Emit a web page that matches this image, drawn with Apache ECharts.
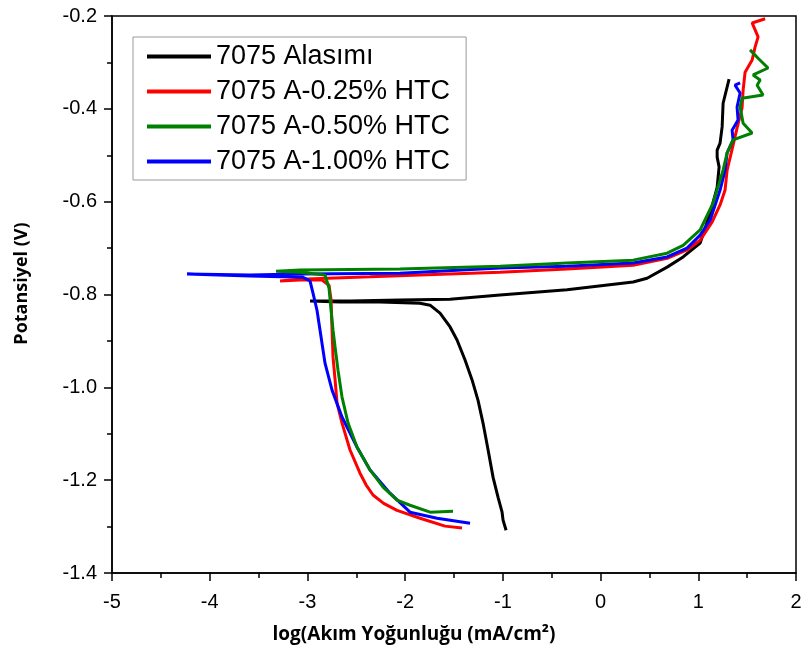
<!DOCTYPE html>
<html>
<head>
<meta charset="utf-8">
<script src="https://cdn.jsdelivr.net/npm/echarts@6/dist/echarts.min.js"></script>
<style>
  html, body { margin: 0; padding: 0; background: #fff; }
  #chart { width: 805px; height: 657px; }
</style>
</head>
<body>
<div id="chart"></div>
<script>
// eğri verileri: x = log(i), y = potansiyel (V)
var names = ["7075 Alasımı", "7075 A-0.25% HTC", "7075 A-0.50% HTC", "7075 A-1.00% HTC"];
var colors = ["#000000", "#ff0000", "#008000", "#0000ff"];

var alloyX = [-0.967, -0.998, -1.008, -1.049, -1.100, -1.151, -1.203, -1.254, -1.315, -1.387, -1.469, -1.540, -1.643, -1.745, -1.848,
  -2.257, -2.666, -2.973, -2.564, -2.052, -1.541, -1.029, -0.343, 0.333, 0.476, 0.681, 0.845, 1.019, 1.121, 1.193, 1.213,
  1.193, 1.193, 1.223, 1.244, 1.254, 1.315];
var alloyY = [-1.308, -1.286, -1.269, -1.237, -1.194, -1.135, -1.077, -1.028, -0.984, -0.941, -0.898, -0.870, -0.840, -0.823, -0.819,
  -0.816, -0.816, -0.814, -0.814, -0.812, -0.810, -0.801, -0.790, -0.773, -0.765, -0.741, -0.719, -0.689, -0.625, -0.569, -0.525,
  -0.504, -0.489, -0.474, -0.439, -0.388, -0.336];

var htc025X = [-1.418, -1.592, -1.847, -2.083, -2.220, -2.329, -2.400, -2.462, -2.564, -2.646, -2.697, -2.717, -2.738, -2.748, -2.758, -2.779, -2.851,
  -3.076, -3.280, -3.076, -2.359, -1.848, -1.029, -0.343, 0.333, 0.681, 0.885, 1.019, 1.141, 1.223, 1.274, 1.295, 1.356,
  1.397, 1.448, 1.459, 1.479, 1.551, 1.581, 1.612, 1.551, 1.684];
var htc025Y = [-1.303, -1.299, -1.282, -1.265, -1.250, -1.232, -1.210, -1.185, -1.135, -1.077, -1.034, -0.984, -0.935, -0.877, -0.812, -0.780, -0.769,
  -0.769, -0.771, -0.767, -0.762, -0.758, -0.752, -0.745, -0.737, -0.722, -0.704, -0.683, -0.644, -0.607, -0.575, -0.532, -0.478,
  -0.441, -0.398, -0.359, -0.321, -0.295, -0.267, -0.245, -0.215, -0.206];

var htc050X = [-1.510, -1.745, -1.950, -2.083, -2.226, -2.359, -2.492, -2.584, -2.646, -2.687, -2.717, -2.738, -2.758, -2.779, -2.820,
  -3.076, -3.321, -3.076, -2.052, -1.029, -0.343, 0.333, 0.681, 0.845, 1.019, 1.151, 1.254, 1.295, 1.356, 1.551, 1.459,
  1.428, 1.448, 1.663, 1.602, 1.633, 1.561, 1.714, 1.612, 1.530];
var htc050Y = [-1.267, -1.269, -1.254, -1.243, -1.215, -1.178, -1.129, -1.077, -1.021, -0.963, -0.913, -0.877, -0.834, -0.786, -0.758,
  -0.752, -0.750, -0.747, -0.745, -0.739, -0.732, -0.726, -0.711, -0.694, -0.661, -0.603, -0.532, -0.495, -0.467, -0.452, -0.431,
  -0.396, -0.377, -0.370, -0.349, -0.338, -0.327, -0.312, -0.291, -0.273];

var htc100X = [-1.336, -1.674, -1.950, -2.155, -2.359, -2.492, -2.646, -2.748, -2.820, -2.871, -2.902, -2.943, -2.973, -3.045, -3.588,
  -4.232, -3.588, -3.076, -2.052, -1.029, -0.343, 0.333, 0.681, 0.885, 1.019, 1.121, 1.223, 1.274, 1.295, 1.356, 1.346,
  1.407, 1.397, 1.428, 1.376, 1.428];
var htc100Y = [-1.293, -1.282, -1.269, -1.228, -1.178, -1.129, -1.064, -1.006, -0.948, -0.877, -0.834, -0.797, -0.771, -0.763, -0.760,
  -0.756, -0.758, -0.756, -0.754, -0.743, -0.739, -0.732, -0.719, -0.700, -0.672, -0.640, -0.575, -0.532, -0.495, -0.467, -0.446,
  -0.424, -0.396, -0.366, -0.349, -0.344];

var xTicks = [-5, -4, -3, -2, -1, 0, 1, 2];
var yTicks = [-1.4, -1.2, -1.0, -0.8, -0.6, -0.4, -0.2];

function zip(xs, ys) {
  return xs.map(function (x, i) { return [x, ys[i]]; });
}

var seriesData = [zip(alloyX, alloyY), zip(htc025X, htc025Y), zip(htc050X, htc050Y), zip(htc100X, htc100Y)];
// çizim sırası: siyah, kırmızı, mavi, yeşil (yeşil en üstte)
var drawOrder = [0, 1, 3, 2];

var chart = echarts.init(document.getElementById("chart"), null, { renderer: "canvas" });

var axisFont = "'Liberation Sans', Arial, sans-serif";
var nameFont = "'Open Sans', 'Noto Sans', sans-serif";

chart.setOption({
  animation: false,
  backgroundColor: "#ffffff",
  grid: {
    left: 112,
    right: 9,
    top: 16,
    bottom: 84,
    show: true,
    borderColor: "#000",
    borderWidth: 1.5
  },
  legend: {
    orient: "vertical",
    left: 133,
    top: 37,
    data: names,
    icon: "rect",
    itemWidth: 64,
    itemHeight: 4,
    itemGap: 8,
    padding: [6, 16, 5, 14],
    borderColor: "#999",
    borderWidth: 1,
    textStyle: { fontFamily: axisFont, fontSize: 27, lineHeight: 26, color: "#000" }
  },
  xAxis: {
    type: "value",
    min: xTicks[0],
    max: xTicks[xTicks.length - 1],
    interval: 1,
    name: "log(Akım Yoğunluğu (mA/cm²)",
    nameLocation: "middle",
    nameGap: 52,
    nameTextStyle: { fontFamily: nameFont, fontWeight: "bold", fontSize: 19, color: "#000", padding: [0, 80, 0, 0] },
    axisLine: { onZero: false, lineStyle: { color: "#000", width: 1.5 } },
    axisTick: { inside: false, length: 8, lineStyle: { color: "#000", width: 1.5 } },
    minorTick: { show: true, splitNumber: 2, length: 5, lineStyle: { color: "#000", width: 1.5 } },
    axisLabel: { margin: 19, fontFamily: axisFont, fontSize: 20, color: "#000" },
    splitLine: { show: false }
  },
  yAxis: {
    type: "value",
    min: yTicks[0],
    max: yTicks[yTicks.length - 1],
    interval: 0.2,
    name: "Potansiyel (V)",
    nameLocation: "middle",
    nameGap: 81,
    nameTextStyle: { fontFamily: nameFont, fontWeight: "bold", fontSize: 18, color: "#000", padding: [0, 0, 0, 22] },
    axisLine: { onZero: false, lineStyle: { color: "#000", width: 1.5 } },
    axisTick: { inside: false, length: 8, lineStyle: { color: "#000", width: 1.5 } },
    minorTick: { show: true, splitNumber: 2, length: 5, lineStyle: { color: "#000", width: 1.5 } },
    axisLabel: {
      margin: 15,
      fontFamily: axisFont,
      fontSize: 20,
      color: "#000",
      formatter: function (v) { return v.toFixed(1); }
    },
    splitLine: { show: false }
  },
  series: drawOrder.map(function (i) {
    return {
      name: names[i],
      type: "line",
      data: seriesData[i],
      symbol: "none",
      smooth: false,
      color: colors[i],
      lineStyle: { color: colors[i], width: 3 },
      z: 2
    };
  })
});
</script>
</body>
</html>
